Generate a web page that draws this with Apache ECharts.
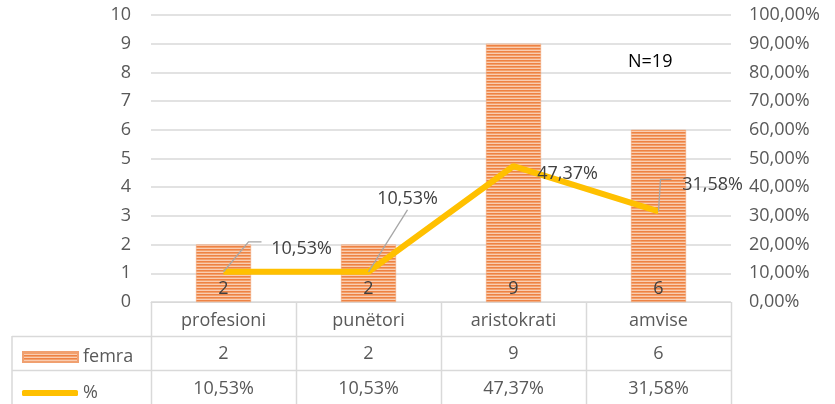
<!DOCTYPE html>
<html><head><meta charset="utf-8">
<script src="https://cdn.jsdelivr.net/npm/echarts@6/dist/echarts.min.js"></script>
<style>html,body{margin:0;padding:0;background:#fff}#c{width:835px;height:404px}</style>
</head><body><div id="c"></div>
<script>
const categories = ['profesioni', 'punëtori', 'aristokrati', 'amvise'];
const femra = [2, 2, 9, 6];
const percent = [10.53, 10.53, 47.37, 31.58];
const leftTicks = [0, 10, 1];
const rightTicks = [0, 100, 10];
const seriesNames = ['femra', '%'];
const noteText = 'N=19';

const FONT = '"Open Sans", sans-serif';
const FS = 18;
const fmtPct = v => v.toFixed(2).replace('.', ',') + '%';

// striped pattern for bars
const pc = document.createElement('canvas');
pc.width = 4; pc.height = 3;
const px = pc.getContext('2d');
px.fillStyle = '#EE8244'; px.fillRect(0, 0, 4, 1);
px.fillStyle = '#F3A16C'; px.fillRect(0, 1, 4, 1);
px.fillStyle = '#F9CDB2'; px.fillRect(0, 2, 4, 1);
const barFill = { image: pc, repeat: 'repeat' };

// label offsets from each point (label centre), and leader line bends relative to the point
const labelOffsets = [[78, -23], [39, -73], [54, 8], [54, -26]];
const leaders = [
  [[25, -30], [38, -30]],
  [[39, -62]],
  null,
  [[2, -32], [13, -32]]
];

const chart = echarts.init(document.getElementById('c'), null, { renderer: 'canvas' });
const gridLeft = 151, gridRight = 104, gridTop = 15, gridBottom = 102;

chart.setOption({
  animation: false,
  textStyle: { fontFamily: FONT },
  grid: { left: gridLeft, right: gridRight, top: gridTop, bottom: gridBottom, containLabel: false },
  legend: [
    { data: [{ name: seriesNames[0], icon: 'rect' }], left: 17, top: 343, itemWidth: 55, itemHeight: 10,
      textStyle: { fontSize: FS, color: '#595959', fontFamily: FONT } },
    { data: [{ name: seriesNames[1], icon: 'roundRect', itemStyle: { color: '#FFC000' } }], left: 17, top: 379, itemWidth: 56, itemHeight: 6,
      textStyle: { fontSize: FS, color: '#595959', fontFamily: FONT } }
  ],
  xAxis: {
    type: 'category', data: categories,
    axisLine: { show: true, lineStyle: { color: '#d9d9d9', width: 1 } },
    axisTick: { show: false },
    axisLabel: { margin: 10, fontSize: FS, color: '#595959', fontFamily: FONT }
  },
  yAxis: [
    { type: 'value', min: leftTicks[0], max: leftTicks[1], interval: leftTicks[2],
      axisLine: { show: false }, axisTick: { show: false },
      axisLabel: { margin: 20, fontSize: FS, color: '#595959', fontFamily: FONT },
      splitLine: { lineStyle: { color: '#d9d9d9', width: 1.5 } } },
    { type: 'value', min: rightTicks[0], max: rightTicks[1], interval: rightTicks[2],
      axisLine: { show: false }, axisTick: { show: false },
      axisLabel: { margin: 18, fontSize: FS, color: '#595959', fontFamily: FONT, formatter: v => fmtPct(v) },
      splitLine: { show: false } }
  ],
  series: [
    { name: seriesNames[0], type: 'bar', data: femra, barWidth: 55, yAxisIndex: 0,
      itemStyle: { color: barFill, borderColor: '#F0A070', borderWidth: 0.5 },
      label: { show: true, position: 'insideBottom', distance: 4, fontSize: FS, color: '#404040', fontFamily: FONT } },
    { name: seriesNames[1], type: 'line', yAxisIndex: 1, z: 5,
      data: percent,
      showSymbol: true, symbol: 'circle', symbolSize: 1,
      lineStyle: { color: '#FFC000', width: 6 }, itemStyle: { color: 'rgba(255,192,0,0)' },
      label: { show: true, position: 'inside', fontSize: FS, color: '#404040', fontFamily: FONT,
        formatter: p => fmtPct(p.value) },
      labelLine: { show: false },
      labelLayout: p => ({ dx: labelOffsets[p.dataIndex][0], dy: labelOffsets[p.dataIndex][1] })
    }
  ]
});

// data table below the plot + leader lines
function drawExtras() {
  const w = chart.getWidth(), h = chart.getHeight();
  const x0 = gridLeft, x1 = w - gridRight, yAxisBase = h - gridBottom;
  const band = (x1 - x0) / categories.length;
  const row1 = yAxisBase + 34, row2 = yAxisBase + 68, tableLeft = 12;
  const lineStyle = { stroke: '#d9d9d9', lineWidth: 1.5 };
  const els = [];
  for (let i = 0; i <= categories.length; i++) {
    const x = Math.round(x0 + band * i) + 0.5;
    els.push({ type: 'line', shape: { x1: x, y1: yAxisBase, x2: x, y2: h }, style: lineStyle, silent: true });
  }
  els.push({ type: 'line', shape: { x1: tableLeft, y1: row1, x2: tableLeft, y2: h }, style: lineStyle, silent: true });
  [row1, row2].forEach(y => els.push({ type: 'line', shape: { x1: tableLeft, y1: y + 0.5, x2: x1, y2: y + 0.5 }, style: lineStyle, silent: true }));
  categories.forEach((c, i) => {
    const cx = chart.convertToPixel({ xAxisIndex: 0 }, c);
    els.push({ type: 'text', x: cx, y: row1 + 18, style: { text: String(femra[i]), fill: '#595959', font: FS + 'px ' + FONT, align: 'center', verticalAlign: 'middle' }, silent: true });
    els.push({ type: 'text', x: cx, y: row2 + 19, style: { text: fmtPct(percent[i]), fill: '#595959', font: FS + 'px ' + FONT, align: 'center', verticalAlign: 'middle' }, silent: true });
    // leader line from the data point toward its label
    if (leaders[i]) {
      const p = chart.convertToPixel({ seriesIndex: 1 }, [i, percent[i]]);
      const pts = [p].concat(leaders[i].map(d => [p[0] + d[0], p[1] + d[1]]));
      els.push({ type: 'polyline', shape: { points: pts }, style: { stroke: '#A6A6A6', lineWidth: 1.3, fill: null }, z: 10, silent: true });
    }
  });
  els.push({ type: 'text', x: 628, y: 62, style: { text: noteText, fill: '#000', font: FS + 'px ' + FONT, align: 'left', verticalAlign: 'middle' }, silent: true });
  chart.setOption({ graphic: els });
}
drawExtras();
</script></body></html>
